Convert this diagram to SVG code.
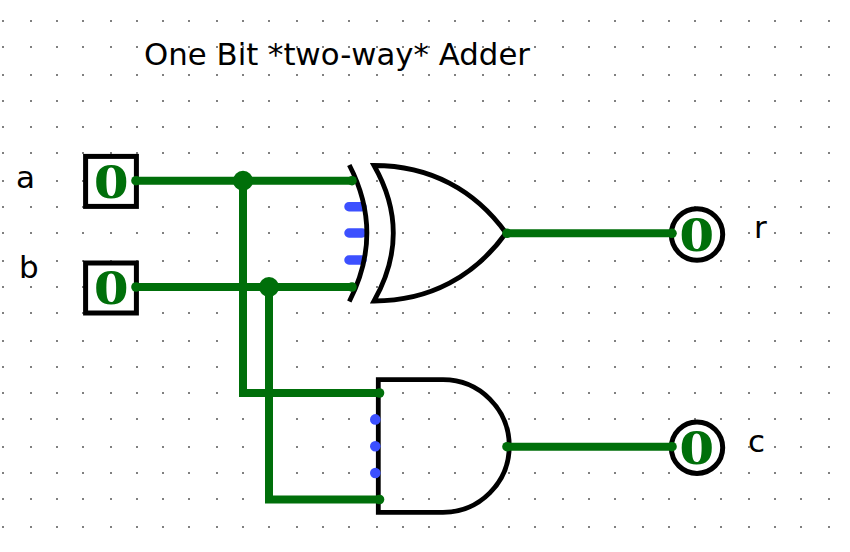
<svg xmlns="http://www.w3.org/2000/svg" width="850" height="552" viewBox="0 0 850 552">
<style>
.w{fill:none;stroke:#006f0a;stroke-width:8}
.e{fill:#006f0a}
.g{fill:none;stroke:#000;stroke-width:4.8}
.gw{fill:#fff;stroke:#000;stroke-width:5}
.b{stroke:#3c50ff;stroke-width:9.5;stroke-linecap:round}
.bd{fill:#3c50ff}
.z{font-family:"Liberation Serif",serif;font-weight:700;font-size:50px;fill:#006f0a;text-anchor:middle}
.t{font-family:"DejaVu Sans",sans-serif;font-size:31px;fill:#000}
</style>
<defs>
<path id="col" fill="#808080" d="M0 20h2v2h-2zM0 46h2v2h-2zM0 74h2v2h-2zM0 100h2v2h-2zM0 126h2v2h-2zM0 152h2v2h-2zM0 180h2v2h-2zM0 206h2v2h-2zM0 232h2v2h-2zM0 260h2v2h-2zM0 286h2v2h-2zM0 312h2v2h-2zM0 340h2v2h-2zM0 366h2v2h-2zM0 392h2v2h-2zM0 418h2v2h-2zM0 446h2v2h-2zM0 472h2v2h-2zM0 498h2v2h-2zM0 526h2v2h-2z"/>
</defs>
<rect width="850" height="552" fill="#fff"/>
<g id="grid">
<use href="#col" x="2"/><use href="#col" x="30"/><use href="#col" x="56"/><use href="#col" x="82"/><use href="#col" x="110"/><use href="#col" x="136"/><use href="#col" x="162"/><use href="#col" x="188"/><use href="#col" x="216"/><use href="#col" x="242"/><use href="#col" x="268"/><use href="#col" x="296"/><use href="#col" x="322"/><use href="#col" x="348"/><use href="#col" x="376"/><use href="#col" x="402"/><use href="#col" x="428"/><use href="#col" x="454"/><use href="#col" x="482"/><use href="#col" x="508"/><use href="#col" x="534"/><use href="#col" x="562"/><use href="#col" x="588"/><use href="#col" x="614"/><use href="#col" x="642"/><use href="#col" x="668"/><use href="#col" x="694"/><use href="#col" x="720"/><use href="#col" x="748"/><use href="#col" x="774"/><use href="#col" x="800"/><use href="#col" x="828"/>
</g>
<g id="title"><text class="t" x="144" y="65" textLength="386" lengthAdjust="spacingAndGlyphs">One Bit *two-way* Adder</text></g>
<g id="label-a"><text class="t" x="16" y="187.5">a</text></g>
<g id="label-b"><text class="t" x="19" y="277.5">b</text></g>
<g id="label-r"><text class="t" x="754" y="237.5">r</text></g>
<g id="label-c"><text class="t" x="748" y="451.5">c</text></g>
<g id="input-a">
<rect class="gw" x="85.6" y="156.4" width="50.8" height="50"/>
<text class="z" transform="translate(111.3 198) scale(1.42 1)">0</text>
</g>
<g id="input-b">
<rect class="gw" x="85.6" y="263" width="50.8" height="50"/>
<text class="z" transform="translate(111.3 303.8) scale(1.42 1)">0</text>
</g>
<g id="xor-gate">
<path class="g" d="M374 165.5C430 165.5 475 190 506 233C475 276 430 301 374 301Q412.6 233 374 165.5Z"/>
<path class="b" d="M349 206.7H362M349 233H362M349 260H362"/>
<path class="g" d="M349.3 165Q384.4 233 349.3 301.5"/>
</g>
<g id="and-gate">
<path class="g" d="M443 379.7A66.3 66.3 0 0 1 443 512.3H378.3V379.7Z"/>
<circle class="bd" cx="375.3" cy="419.4" r="5.3"/><circle class="bd" cx="375.3" cy="446.3" r="5.3"/><circle class="bd" cx="375.3" cy="473" r="5.3"/>
</g>
<g id="output-r">
<circle class="gw" cx="697" cy="234.5" r="25.7"/>
<text class="z" transform="translate(696.8 251) scale(1.42 1)">0</text>
</g>
<g id="output-c">
<circle class="gw" cx="697" cy="447.7" r="25.7"/>
<text class="z" transform="translate(696.8 464) scale(1.42 1)">0</text>
</g>
<g id="connectors">
<path class="w" d="M136 180.7H352M136 287H352M243 180.7V393H379M269 287V499.5H379M507 233.3H672M507 446.7H672"/>
<circle class="e" cx="243" cy="180.7" r="10"/><circle class="e" cx="269" cy="287" r="10"/>
<circle class="e" cx="136" cy="180.7" r="4.8"/><circle class="e" cx="136" cy="287" r="4.8"/>
<circle class="e" cx="352" cy="180.7" r="4.8"/><circle class="e" cx="352" cy="287" r="4.8"/>
<circle class="e" cx="379.5" cy="393" r="4.8"/><circle class="e" cx="379.5" cy="499.5" r="4.8"/>
<circle class="e" cx="507" cy="233.3" r="4.8"/><circle class="e" cx="507" cy="446.7" r="4.8"/>
<circle class="e" cx="672" cy="233.3" r="4.8"/><circle class="e" cx="672" cy="446.7" r="4.8"/>
</g>
</svg>
